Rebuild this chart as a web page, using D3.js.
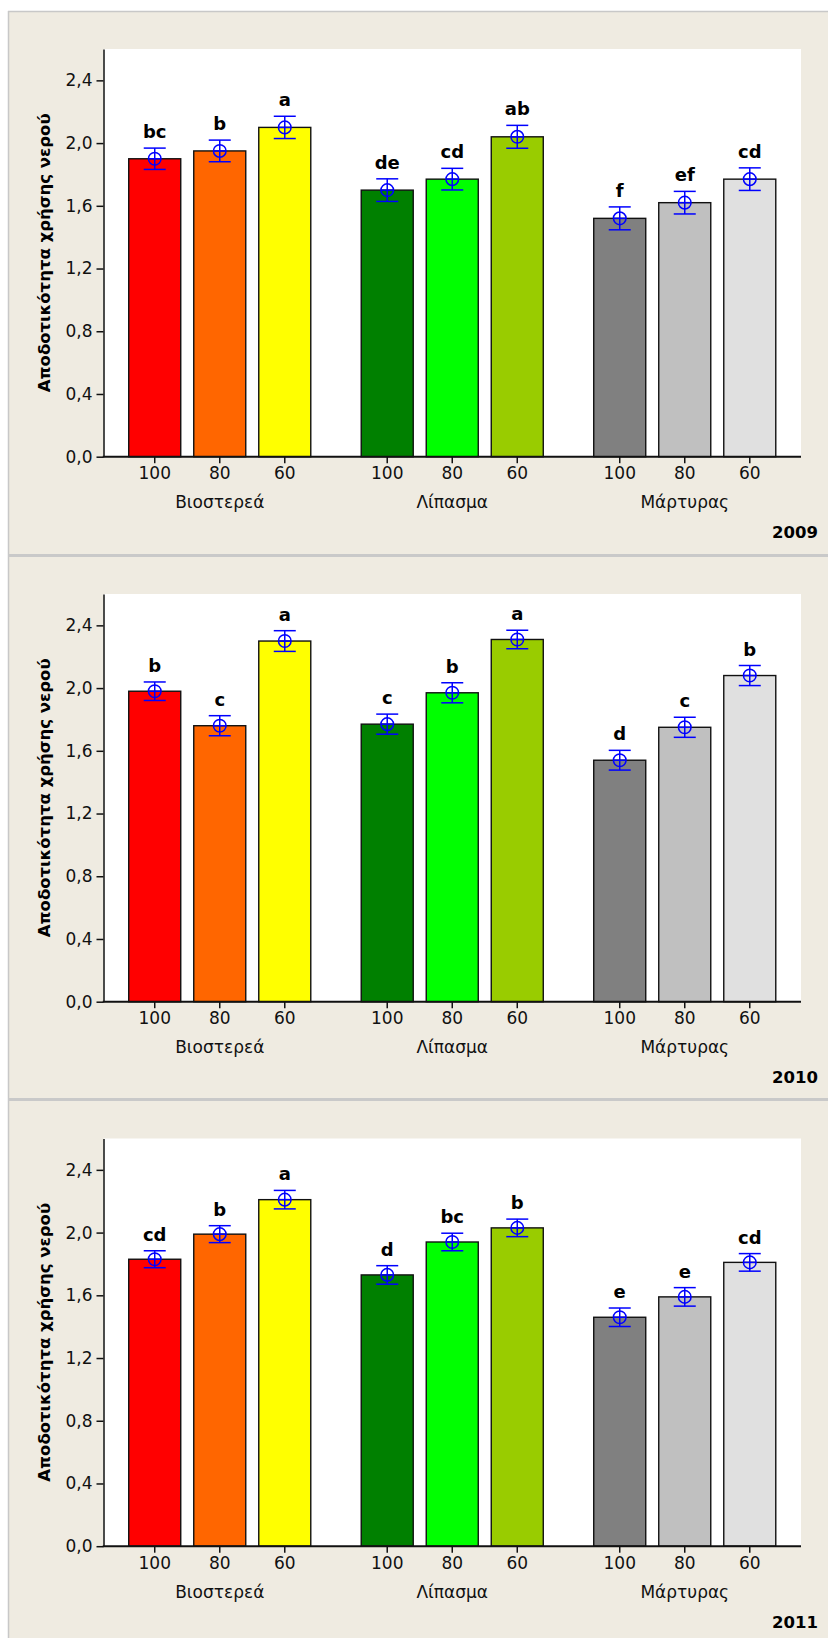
<!DOCTYPE html>
<html>
<head>
<meta charset="utf-8">
<script src="https://cdn.jsdelivr.net/npm/d3@7"></script>
<style>
	body { margin: 0; background: #fff; }
	svg { display: block; font-family: "DejaVu Sans", sans-serif; }
</style>
</head>
<body>
<div id="plot"></div>
<script>

const groups = [ "Βιοστερεά", "Λίπασμα", "Μάρτυρας" ];
const levels = [ "100", "80", "60" ];
const bar_colors = [ "#ff0000", "#ff6600", "#ffff00", "#008000", "#00ff00", "#99cc00", "#808080", "#c0c0c0", "#e0e0e0" ];
const y_ticks = [ 0, 0.4, 0.8, 1.2, 1.6, 2.0, 2.4 ];
const y_title = "Αποδοτικότητα χρήσης νερού";
const years = [ "2009", "2010", "2011" ];

const means_2009 = [ 1.90, 1.95, 2.10, 1.70, 1.77, 2.04, 1.52, 1.62, 1.77 ];
const errors_2009 = [ 0.068, 0.069, 0.071, 0.072, 0.069, 0.073, 0.073, 0.072, 0.072 ];
const letters_2009 = [ "bc", "b", "a", "de", "cd", "ab", "f", "ef", "cd" ];

const means_2010 = [ 1.98, 1.76, 2.30, 1.77, 1.97, 2.31, 1.54, 1.75, 2.08 ];
const errors_2010 = [ 0.059, 0.064, 0.066, 0.064, 0.064, 0.059, 0.063, 0.064, 0.064 ];
const letters_2010 = [ "b", "c", "a", "c", "b", "a", "d", "c", "b" ];

const means_2011 = [ 1.83, 1.99, 2.21, 1.73, 1.94, 2.03, 1.46, 1.59, 1.81 ];
const errors_2011 = [ 0.054, 0.054, 0.059, 0.059, 0.056, 0.056, 0.059, 0.059, 0.056 ];
const letters_2011 = [ "cd", "b", "a", "d", "bc", "b", "e", "e", "cd" ];

///////////////////////////////////////////////////////////////////////

const width = 828, height = 1638;
const panel_tops = [ 11, 556, 1100.5 ];
const plot_left = 103.5, plot_right = 801;

let svg = d3.select( "#plot" )
	.append( "svg" )
		.attr( "width", width )
		.attr( "height", height );

// beige frame
svg.append( "rect" )
	.attr( "x", 8 ).attr( "y", 11 )
	.attr( "width", width - 8 ).attr( "height", height - 11 )
	.attr( "fill", "#efebe1" );
svg.append( "line" )
	.attr( "x1", 8.5 ).attr( "x2", 8.5 )
	.attr( "y1", 11 ).attr( "y2", height )
	.attr( "stroke", "#c8c8c8" ).attr( "stroke-width", 1.5 );
svg.append( "line" )
	.attr( "x1", 8 ).attr( "x2", width )
	.attr( "y1", 11.5 ).attr( "y2", 11.5 )
	.attr( "stroke", "#c8c8c8" ).attr( "stroke-width", 1.5 );
[ 555.5, 1099.5 ].forEach( sy => {
	svg.append( "line" )
		.attr( "x1", 8 ).attr( "x2", width )
		.attr( "y1", sy ).attr( "y2", sy )
		.attr( "stroke", "#c9c9c9" ).attr( "stroke-width", 3 );
} );

draw_panel( panel_tops[ 0 ], years[ 0 ], means_2009, errors_2009, letters_2009 );
draw_panel( panel_tops[ 1 ], years[ 1 ], means_2010, errors_2010, letters_2010 );
draw_panel( panel_tops[ 2 ], years[ 2 ], means_2011, errors_2011, letters_2011 );

function draw_panel( top, year, means, errors, letters )	{

	let y = d3.scaleLinear()
		.domain( [ 0, 2.6 ] )
		.range( [ top + 445.7, top + 38 ] );

	let x0 = d3.scaleBand()
		.domain( groups )
		.range( [ plot_left, plot_right ] );

	let x1 = d3.scaleBand()
		.domain( levels )
		.range( [ 0, x0.bandwidth() ] )
		.paddingInner( 0.2 )
		.paddingOuter( 0.388 );

	let rows = means.map( ( m, i ) => ( {
		group: groups[ Math.floor( i / 3 ) ],
		level: levels[ i % 3 ],
		mean: m,
		err: errors[ i ],
		letter: letters[ i ],
		color: bar_colors[ i ]
	} ) );

	let g = svg.append( "g" );

	// plot background
	g.append( "rect" )
		.attr( "x", plot_left ).attr( "y", y( 2.6 ) )
		.attr( "width", plot_right - plot_left )
		.attr( "height", y( 0 ) - y( 2.6 ) )
		.attr( "fill", "#fff" );

	// bars
	g.append( "g" )
		.selectAll( "rect" )
		.data( rows )
		.join( "rect" )
			.attr( "x", d => x0( d.group ) + x1( d.level ) )
			.attr( "y", d => y( d.mean ) )
			.attr( "width", x1.bandwidth() )
			.attr( "height", d => y( 0 ) - y( d.mean ) )
			.attr( "fill", d => d.color )
			.attr( "stroke", "#111" )
			.attr( "stroke-width", 1.4 );

	// error bars
	let cx = d => x0( d.group ) + x1( d.level ) + x1.bandwidth() / 2;
	let eb = g.append( "g" )
		.attr( "stroke", "#0000ff" )
		.attr( "stroke-width", 1.5 )
		.attr( "fill", "none" )
		.selectAll( "g" )
		.data( rows )
		.join( "g" );

	eb.append( "line" )
		.attr( "x1", cx ).attr( "x2", cx )
		.attr( "y1", d => y( d.mean + d.err ) )
		.attr( "y2", d => y( d.mean - d.err ) );
	eb.append( "line" )
		.attr( "x1", d => cx( d ) - 11 ).attr( "x2", d => cx( d ) + 11 )
		.attr( "y1", d => y( d.mean + d.err ) )
		.attr( "y2", d => y( d.mean + d.err ) );
	eb.append( "line" )
		.attr( "x1", d => cx( d ) - 11 ).attr( "x2", d => cx( d ) + 11 )
		.attr( "y1", d => y( d.mean - d.err ) )
		.attr( "y2", d => y( d.mean - d.err ) );
	eb.append( "circle" )
		.attr( "cx", cx )
		.attr( "cy", d => y( d.mean ) )
		.attr( "r", 6.3 );
	eb.append( "line" )
		.attr( "x1", d => cx( d ) - 6.3 ).attr( "x2", d => cx( d ) + 6.3 )
		.attr( "y1", d => y( d.mean ) )
		.attr( "y2", d => y( d.mean ) );

	// significance letters
	g.append( "g" )
		.selectAll( "text" )
		.data( rows )
		.join( "text" )
			.attr( "x", cx )
			.attr( "y", d => y( d.mean + d.err ) - 10 )
			.attr( "text-anchor", "middle" )
			.attr( "font-size", 18 )
			.attr( "font-weight", "bold" )
			.attr( "fill", "#000" )
			.text( d => d.letter );

	// y axis
	let y_axis = g.append( "g" )
		.attr( "transform", "translate(" + plot_left + ",0)" )
		.call(
			d3.axisLeft( y )
				.tickValues( y_ticks )
				.tickFormat( d => d3.format( ".1f" )( d ).replace( ".", "," ) )
				.tickSize( 7 )
				.tickSizeOuter( 0 )
				.tickPadding( 4 )
		);
	y_axis.selectAll( "text" )
		.attr( "font-size", 17 )
		.attr( "font-family", "DejaVu Sans" )
		.attr( "fill", "#111" );
	y_axis.selectAll( "path, line" )
		.attr( "stroke", "#111" )
		.attr( "stroke-width", 1.5 );

	// x axis: one small axis per group, ticks at bar centres
	groups.forEach( grp => {
		let ax = g.append( "g" )
			.attr( "transform", "translate(" + x0( grp ) + "," + y( 0 ) + ")" )
			.call(
				d3.axisBottom( x1 )
					.tickSize( 6.5 )
					.tickSizeOuter( 0 )
					.tickPadding( 4 )
			);
		ax.select( ".domain" ).remove();
		ax.selectAll( "line" )
			.attr( "stroke", "#111" )
			.attr( "stroke-width", 1.5 );
		ax.selectAll( "text" )
			.attr( "font-size", 17 )
			.attr( "font-family", "DejaVu Sans" )
			.attr( "fill", "#111" );
	} );
	g.append( "line" )
		.attr( "x1", plot_left - 0.75 ).attr( "x2", plot_right )
		.attr( "y1", y( 0 ) ).attr( "y2", y( 0 ) )
		.attr( "stroke", "#111" )
		.attr( "stroke-width", 2 );

	// group labels
	g.append( "g" )
		.selectAll( "text" )
		.data( groups )
		.join( "text" )
			.attr( "x", d => x0( d ) + x0.bandwidth() / 2 )
			.attr( "y", y( 0 ) + 51.6 )
			.attr( "text-anchor", "middle" )
			.attr( "font-size", 17 )
			.attr( "fill", "#111" )
			.text( d => d );

	// y title
	g.append( "text" )
		.attr( "transform", "translate(50," + ( ( y( 0 ) + y( 2.6 ) ) / 2 ) + ") rotate(-90)" )
		.attr( "text-anchor", "middle" )
		.attr( "font-size", 16.5 )
		.attr( "font-weight", "bold" )
		.attr( "fill", "#000" )
		.text( y_title );

	// year
	g.append( "text" )
		.attr( "x", 818 )
		.attr( "y", top + 527 )
		.attr( "text-anchor", "end" )
		.attr( "font-size", 16.5 )
		.attr( "font-weight", "bold" )
		.attr( "fill", "#000" )
		.text( year );
}

</script>
</body>
</html>
